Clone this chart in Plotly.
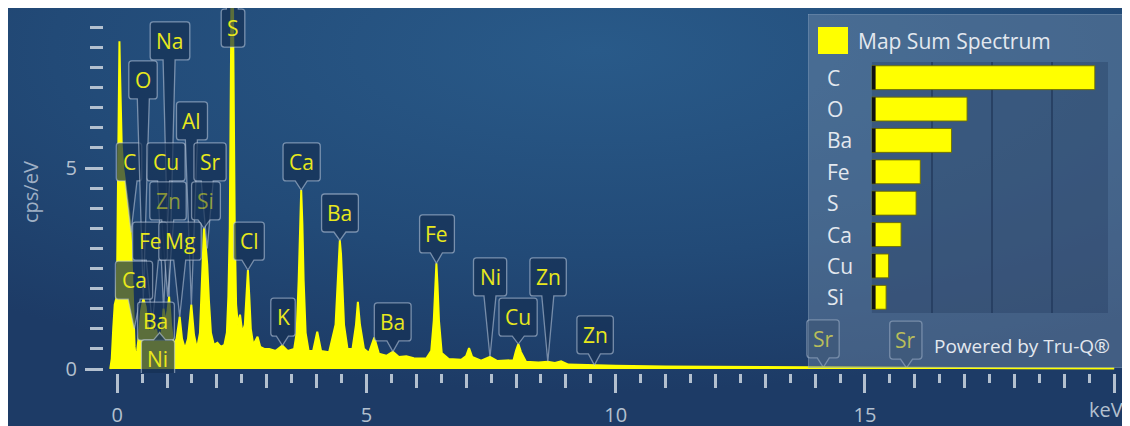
import base64
import plotly.graph_objects as go

# ---------------- data ----------------
energy_keV = [
    -0.14, -0.11, -0.08, -0.05, -0.02, 0.0, 0.02, 0.035, 0.045, 0.055, 0.07, 0.09,
    0.12, 0.16, 0.20, 0.24, 0.27, 0.29, 0.31, 0.33, 0.35, 0.37,
    0.40, 0.44, 0.48, 0.525, 0.57, 0.61, 0.65, 0.705, 0.745, 0.78, 0.815, 0.851,
    0.89, 0.93, 0.97, 1.01, 1.041, 1.08, 1.13, 1.19, 1.254, 1.30, 1.36, 1.42,
    1.487, 1.54, 1.60, 1.66, 1.70, 1.74, 1.78, 1.806, 1.84, 1.88, 1.94, 2.01,
    2.08, 2.15, 2.20, 2.23, 2.258, 2.283, 2.296, 2.308, 2.32, 2.333, 2.358,
    2.385, 2.42, 2.464, 2.51, 2.56, 2.59, 2.622, 2.65, 2.68, 2.73, 2.815, 2.87,
    2.95, 3.05, 3.18, 3.313, 3.42, 3.55, 3.60, 3.64, 3.665, 3.691, 3.715, 3.74,
    3.78, 3.84, 3.93, 4.013, 4.09, 4.25, 4.38, 4.415, 4.44, 4.466, 4.49, 4.515,
    4.55, 4.62, 4.72, 4.79, 4.828, 4.87, 4.95, 5.05, 5.157, 5.25, 5.40, 5.531,
    5.65, 5.80, 5.95, 6.20, 6.30, 6.35, 6.38, 6.403, 6.425, 6.455, 6.51, 6.65,
    6.90, 7.00, 7.058, 7.12, 7.30, 7.477, 7.62, 7.95, 8.00, 8.047, 8.10, 8.20,
    8.45, 8.638, 8.78, 8.905, 9.05, 9.30, 9.572, 10.0, 11.0, 12.0, 13.0, 14.164,
    15.0, 15.834, 17.0, 18.5, 20.0,
]
cps_per_eV = [
    0.0, 0.25, 1.0, 1.6, 1.75, 2.6, 5.2, 7.4, 8.15, 7.5, 6.4, 5.6,
    5.0, 4.6, 4.3, 3.9, 3.4, 2.6, 1.7, 1.0, 0.55, 0.3,
    0.45, 0.9, 1.45, 1.75, 1.55, 1.1, 0.85, 1.1, 0.85, 1.0, 0.75, 0.9,
    0.85, 1.5, 1.15, 1.45, 1.8, 1.1, 0.6, 0.75, 1.3, 0.75, 0.5, 0.75,
    1.6, 0.85, 0.5, 0.9, 2.2, 3.5, 3.0, 2.6, 1.7, 0.9, 0.6, 0.65,
    0.55, 0.6, 0.9, 1.8, 3.5, 7.0, 9.5, 12.0, 9.5, 7.0, 3.5,
    1.6, 1.1, 1.35, 0.9, 1.1, 1.8, 2.46, 1.8, 1.0, 0.6, 0.8, 0.55,
    0.5, 0.5, 0.45, 0.58, 0.45, 0.5, 0.9, 2.2, 3.6, 4.45, 3.6, 2.2,
    0.9, 0.45, 0.45, 0.93, 0.45, 0.42, 1.1, 2.1, 2.85, 3.2, 2.85, 2.1,
    1.1, 0.5, 0.5, 1.1, 1.67, 1.1, 0.5, 0.4, 0.78, 0.38, 0.33, 0.43,
    0.3, 0.32, 0.27, 0.26, 0.45, 1.2, 2.1, 2.63, 2.1, 1.2, 0.4, 0.25,
    0.23, 0.32, 0.52, 0.3, 0.21, 0.3, 0.2, 0.22, 0.45, 0.62, 0.42, 0.18,
    0.16, 0.18, 0.15, 0.19, 0.11, 0.1, 0.1, 0.08, 0.06, 0.05, 0.04, 0.04,
    0.03, 0.03, 0.025, 0.02, 0.015,
]

categories = ["C", "O", "Ba", "Fe", "S", "Ca", "Cu", "Si"]
wt_percent = [37.2, 15.9, 13.3, 8.1, 7.4, 4.9, 2.8, 2.4]

x_tick_vals = [0, 5, 10, 15, 20]
x_tick_text = ["0", "5", "10", "15", ""]
y_tick_vals = [0, 5]
y_tick_text = ["0", "5"]

peak_labels = ["C", "O", "Na", "Al", "Cu", "Sr", "Zn", "Si", "Fe", "Mg", "Ca", "Ba", "Ni",
               "S", "Cl", "K", "Ca", "Ba", "Ba", "Fe", "Ni", "Cu", "Zn", "Zn", "Sr", "Sr"]
peak_energies = [0.277, 0.525, 1.041, 1.487, 0.930, 1.806, 1.012, 1.740, 0.705, 1.254, 0.341,
                 0.780, 0.851, 2.308, 2.622, 3.313, 3.691, 4.466, 5.531, 6.403, 7.477, 8.047,
                 8.638, 9.572, 14.164, 15.834]

series_name = "Map Sum Spectrum"

# ---------------- layout (positions, not data) ----------------
label_box_x = [0.237, 0.518, 1.059, 1.500, 0.979, 1.862, 1.019, 1.781, 0.658, 1.260, 0.337,
               0.778, 0.818, 2.323, 2.644, 3.326, 3.700, 4.469, 5.527, 6.415, 7.480, 8.042,
               8.644, 9.587, 14.16, 15.82]
label_box_y = [5.15, 7.19, 8.16, 6.17, 5.15, 5.15, 4.18, 4.18, 3.18, 3.18, 2.21,
               1.19, 0.25, 8.48, 3.18, 1.29, 5.15, 3.88, 1.17, 3.36, 2.29, 1.29,
               2.29, 0.85, 0.75, 0.72]
faded = {6, 7}

OFF = 8                      # page offset of the figure (body margin)
W, H = 1130, 426
PL, PR, PT, PB = 104, 1123, 8, 373   # plot area edges in page pixels
ML, MR, MT, MB = PL - OFF, W - (PR - OFF), PT - OFF, H - (PB - OFF)
PW, PH = PR - PL, PB - PT
PXK, PXC = 49.85, 40.2
ZERO_PX, ZERO_PY = 117.2, 369.0
x_lo = (PL - ZERO_PX) / PXK
x_hi = x_lo + PW / PXK
y_lo = (ZERO_PY - PB) / PXC
y_hi = y_lo + PH / PXC


def pxx(px):
    return (px - PL) / PW


def pxy(py):
    return (PB - py) / PH


FONT = "Open Sans, Noto Sans, DejaVu Sans, sans-serif"
YEL = "#ffff00"
LBL = "#e8e81c"
AX = "#b3c0cf"
TXT = "#e3e8ef"

CW = {'N': 15.8, 'a': 11.7, 'C': 13.4, 'u': 12.8, 'Z': 11.7, 'n': 12.8, 'F': 11.1, 'e': 11.8,
      'B': 13.2, 'i': 5.3, 'S': 11.5, 'r': 8.6, 'K': 12.5, 'l': 5.3, 'A': 13.7, 'M': 18.8,
      'g': 11.7, 'O': 16.4}


def callout(w, h, adx, ady, r=3.0, nb=6.0):
    L, R, B, T = -w / 2, w / 2, -h / 2, h / 2
    f = lambda x, y: f"{x:.1f},{y:.1f}"
    if ady < B:
        bx = min(max(adx, L + r + nb), R - r - nb)
        p = [f"M{f(L + r, T)}", f"L{f(R - r, T)}", f"Q{f(R, T)} {f(R, T - r)}", f"L{f(R, B + r)}",
             f"Q{f(R, B)} {f(R - r, B)}", f"L{f(bx + nb, B)}", f"L{f(adx, ady)}", f"L{f(bx - nb, B)}",
             f"L{f(L + r, B)}", f"Q{f(L, B)} {f(L, B + r)}", f"L{f(L, T - r)}", f"Q{f(L, T)} {f(L + r, T)}", "Z"]
    elif ady > T:
        bx = min(max(adx, L + r + nb), R - r - nb)
        p = [f"M{f(L + r, T)}", f"L{f(bx - nb, T)}", f"L{f(adx, ady)}", f"L{f(bx + nb, T)}",
             f"L{f(R - r, T)}", f"Q{f(R, T)} {f(R, T - r)}", f"L{f(R, B + r)}", f"Q{f(R, B)} {f(R - r, B)}",
             f"L{f(L + r, B)}", f"Q{f(L, B)} {f(L, B + r)}", f"L{f(L, T - r)}", f"Q{f(L, T)} {f(L + r, T)}", "Z"]
    else:
        p = [f"M{f(L + r, T)}", f"L{f(R - r, T)}", f"Q{f(R, T)} {f(R, T - r)}", f"L{f(R, B + r)}",
             f"Q{f(R, B)} {f(R - r, B)}", f"L{f(L + r, B)}", f"Q{f(L, B)} {f(L, B + r)}",
             f"L{f(L, T - r)}", f"Q{f(L, T)} {f(L + r, T)}", "Z"]
    return " ".join(p)


def peak_height(e):
    vals = [v for x, v in zip(energy_keV, cps_per_eV) if abs(x - e) <= 0.03]
    return max(vals) if vals else 0.0


fig = go.Figure()

fig.add_trace(go.Scatter(x=energy_keV, y=cps_per_eV, mode="lines", fill="tozeroy",
                         fillcolor=YEL, line=dict(color=YEL, width=2), name=series_name,
                         hoverinfo="skip", xaxis="x", yaxis="y"))
fig.add_trace(go.Scatter(x=[], y=[], xaxis="x4", yaxis="y", showlegend=False))
fig.add_trace(go.Scatter(x=[], y=[], xaxis="x2", yaxis="y2", showlegend=False))
fig.add_trace(go.Bar(x=wt_percent, y=categories, orientation="h", xaxis="x3", yaxis="y3",
                     marker=dict(color=YEL, line=dict(color="rgba(110,110,0,0.9)", width=1)),
                     width=0.76, hoverinfo="skip"))
fig.add_trace(go.Bar(x=[0.65] * len(categories), y=categories, orientation="h", xaxis="x3", yaxis="y3",
                     marker=dict(color="#111111", line=dict(width=0)), width=0.76, hoverinfo="skip"))

shapes = []
annotations = []

shapes.append(dict(type="rect", xref="paper", yref="paper", x0=pxx(7.5), x1=pxx(1126.5),
                   y0=pxy(440), y1=pxy(7.5), line=dict(color="#000000", width=1),
                   fillcolor="rgba(0,0,0,0)", layer="below"))

shapes.append(dict(type="rect", xref="x2", yref="y2", x0=0, x1=1, y0=0, y1=1, layer="below",
                   fillcolor="rgba(118,142,172,0.42)", line=dict(color="rgba(175,195,220,0.45)", width=1)))
shapes.append(dict(type="rect", xref="x3", yref="y3", x0=0, x1=39.4, y0=-0.5, y1=len(categories) - 0.5,
                   layer="below", fillcolor="rgba(25,48,82,0.28)", line=dict(width=0)))

for i, (t, e) in enumerate(zip(peak_labels, peak_energies)):
    cx, cy = label_box_x[i], label_box_y[i]
    w = sum(CW.get(c, 12) for c in t) + 12
    h = 38
    adx = (e - cx) * PXK
    ady = (peak_height(e) - cy) * PXC
    under_panel = e > 13.5
    shapes.append(dict(type="path", xref="x", yref="y", xsizemode="pixel", ysizemode="pixel",
                       xanchor=cx, yanchor=cy, path=callout(w, h, adx, ady),
                       fillcolor="rgba(22,48,84,0.70)", line=dict(color="rgba(195,208,225,0.55)", width=1.3),
                       layer="below" if under_panel else "above"))
    col = "#b9bd5a" if under_panel else ("rgba(232,232,28,0.55)" if i in faded else LBL)
    annotations.append(dict(x=cx, y=cy, xref="x", yref="y", text=t, showarrow=False,
                            font=dict(family=FONT, size=21, color=col), xanchor="center", yanchor="middle"))

shapes.append(dict(type="rect", xref="paper", yref="paper", x0=pxx(818), x1=pxx(848), y0=pxy(54), y1=pxy(27),
                   fillcolor=YEL, line=dict(width=0), layer="above"))
annotations.append(dict(x=pxx(856), y=pxy(41), xref="paper", yref="paper", text=series_name, showarrow=False,
                        xanchor="left", yanchor="middle", font=dict(family=FONT, size=21, color=TXT)))
for c in categories:
    annotations.append(dict(x=pxx(825), y=c, xref="paper", yref="y3", text=c, showarrow=False,
                            xanchor="left", yanchor="middle", font=dict(family=FONT, size=21, color=TXT)))
annotations.append(dict(x=pxx(932), y=pxy(346), xref="paper", yref="paper", text="Powered by Tru-Q®",
                        showarrow=False, xanchor="left", yanchor="middle",
                        font=dict(family=FONT, size=19, color=TXT)))
annotations.append(dict(x=pxx(31), y=pxy(192), xref="paper", yref="paper", text="cps/eV", textangle=-90,
                        showarrow=False, xanchor="center", yanchor="middle",
                        font=dict(family=FONT, size=20, color="#9fb0c5")))
annotations.append(dict(x=pxx(1106), y=pxy(410), xref="paper", yref="paper", text="keV",
                        showarrow=False, xanchor="center", yanchor="middle",
                        font=dict(family=FONT, size=20, color=AX)))

svg = ('<svg xmlns="http://www.w3.org/2000/svg" width="1130" height="426" viewBox="0 0 1130 426" '
       'preserveAspectRatio="none"><defs><radialGradient id="g" cx="0.52" cy="0.1" r="0.8">'
       '<stop offset="0" stop-color="#295a89"/><stop offset="0.6" stop-color="#224a77"/>'
       '<stop offset="1" stop-color="#1d3b66"/></radialGradient></defs>'
       '<rect width="1130" height="426" fill="url(#g)"/></svg>')
src = "data:image/svg+xml;base64," + base64.b64encode(svg.encode()).decode()
images = [dict(source=src, xref="paper", yref="paper", x=pxx(8), y=pxy(8), sizex=1130 / PW, sizey=426 / PH,
               xanchor="left", yanchor="top", sizing="stretch", layer="below")]

tick_common = dict(tickcolor=AX, tickfont=dict(family=FONT, size=20, color=AX))

fig.update_layout(
    width=W, height=H, margin=dict(l=ML, r=MR, t=MT, b=MB, pad=0),
    paper_bgcolor="#ffffff", plot_bgcolor="rgba(0,0,0,0)", showlegend=False,
    barmode="overlay", shapes=shapes, annotations=annotations, images=images,
    xaxis=dict(domain=[0, 1], range=[x_lo, x_hi], anchor="y", showgrid=False, zeroline=False, showline=False,
               tickmode="array", tickvals=x_tick_vals, ticktext=x_tick_text, ticks="outside",
               ticklen=19, tickwidth=2.5, ticklabelstandoff=5,
               minor=dict(tickmode="linear", tick0=0, dtick=0.5, ticks="outside", ticklen=9, tickwidth=2.5,
                          tickcolor=AX, showgrid=False), **tick_common),
    xaxis4=dict(overlaying="x", anchor="y", range=[x_lo, x_hi], showgrid=False, zeroline=False, showline=False,
                tickmode="linear", tick0=0, dtick=1, ticks="outside", ticklen=14, tickwidth=2.5,
                tickcolor=AX, showticklabels=False),
    yaxis=dict(domain=[0, 1], range=[y_lo, y_hi], anchor="x", showgrid=False, zeroline=False, showline=False,
               tickmode="array", tickvals=y_tick_vals, ticktext=y_tick_text, ticks="outside",
               ticklen=18, tickwidth=3, ticklabelstandoff=4,
               minor=dict(tickmode="linear", tick0=0, dtick=0.5, ticks="outside", ticklen=13, tickwidth=3,
                          tickcolor=AX, showgrid=False), **tick_common),
    xaxis2=dict(domain=[pxx(808), 1.0], range=[0, 1], anchor="y2", visible=False, fixedrange=True),
    yaxis2=dict(domain=[pxy(368), pxy(14)], range=[0, 1], anchor="x2", visible=False, fixedrange=True),
    xaxis3=dict(domain=[pxx(871.7), pxx(1108)], range=[0, 39.4], anchor="y3", showticklabels=False,
                showgrid=True, gridcolor="rgba(35,58,92,0.75)", gridwidth=1.5, dtick=10, tick0=0,
                zeroline=False, showline=False, ticks=""),
    yaxis3=dict(domain=[pxy(313), pxy(62)], anchor="x3", type="category", categoryorder="array",
                categoryarray=categories, range=[len(categories) - 0.5, -0.5], showticklabels=False,
                showgrid=False, zeroline=False, showline=False, ticks=""),
)

fig.write_html("out.html")
